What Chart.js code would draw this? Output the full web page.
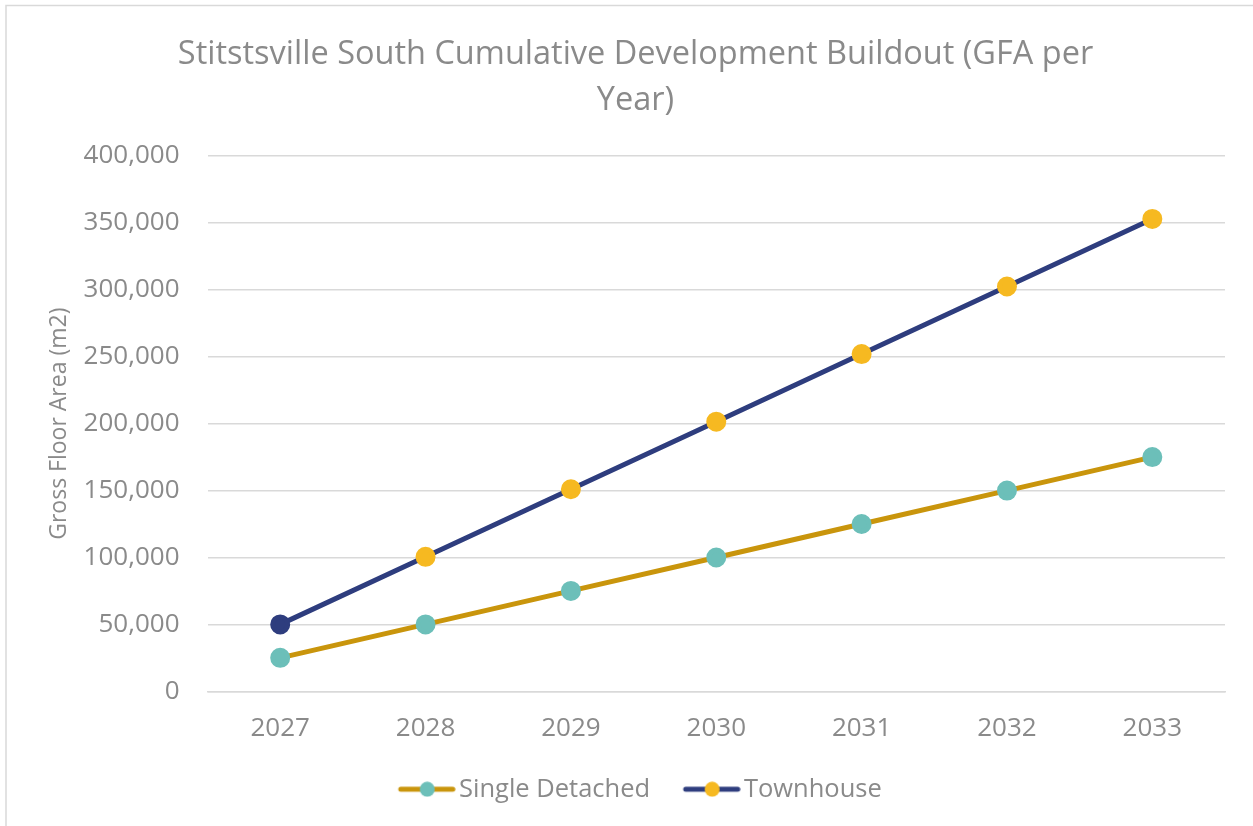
<!DOCTYPE html>
<html><head><meta charset="utf-8">
<script src="https://cdn.jsdelivr.net/npm/chart.js@4/dist/chart.umd.min.js"></script>
<style>html,body{margin:0;padding:0;background:#fff}#wrap{width:1253px;height:826px;position:relative}</style>
</head><body><div id="wrap"><canvas id="c" width="1253" height="826"></canvas></div>
<script>
const categories = ['2027','2028','2029','2030','2031','2032','2033'];
const singleDetached = [25000, 50000, 75000, 100000, 125000, 150000, 175000];
const townhouse = [50000, 100500, 151000, 201500, 252000, 302500, 353000];
const titleLines = ['Stitstsville South Cumulative Development Buildout (GFA per', 'Year)'];
const yTitle = 'Gross Floor Area (m2)';

const FONT = "'Open Sans', sans-serif";
const GRAY = '#8a8a8a';
const GOLD = '#C9950C', TEAL = '#6CBFB9', NAVY = '#2E3D7E', YELLOW = '#F6B921';
const LEG_PAD = 24;

function legendIcon(lineColor, dotColor){
  const cv = document.createElement('canvas');
  cv.width = 76; cv.height = 16;
  const g = cv.getContext('2d');
  g.strokeStyle = lineColor; g.lineWidth = 5; g.lineCap = 'round';
  g.beginPath(); g.moveTo(21, 8); g.lineTo(73, 8); g.stroke();
  g.fillStyle = dotColor; g.beginPath(); g.arc(47.5, 8, 7.5, 0, Math.PI*2); g.fill();
  return cv;
}

const framePlugin = {
  id: 'frame',
  afterInit(chart){
    const lg = chart.legend;
    if (lg && !lg._patched){
      const f = lg.fit.bind(lg);
      lg.fit = function(){ f(); this.height -= (LEG_PAD - 10); };
      lg._patched = true;
    }
  },
  afterLayout(chart){
    const lg = chart.legend;
    if (lg){ lg.top -= (LEG_PAD - 10); }
  },
  beforeDraw(chart){
    const ctx = chart.ctx;
    ctx.save();
    ctx.fillStyle = '#fff'; ctx.fillRect(0,0,chart.width,chart.height);
    ctx.strokeStyle = '#d9d9d9'; ctx.lineWidth = 1.5;
    ctx.beginPath(); ctx.moveTo(6, chart.height); ctx.lineTo(6, 5.5); ctx.lineTo(chart.width, 5.5); ctx.stroke();
    ctx.restore();
  }
};

new Chart(document.getElementById('c'), {
  type: 'line',
  data: {
    labels: categories,
    datasets: [
      { label: 'Single Detached', data: singleDetached, borderColor: GOLD, backgroundColor: TEAL,
        pointBackgroundColor: TEAL, pointBorderColor: TEAL, borderWidth: 5, pointRadius: 7.5, pointHoverRadius: 7.5, tension: 0 },
      { label: 'Townhouse', data: townhouse, borderColor: NAVY, backgroundColor: YELLOW,
        pointBackgroundColor: townhouse.map((v,i)=> i===0 ? NAVY : YELLOW),
        pointBorderColor: townhouse.map((v,i)=> i===0 ? NAVY : YELLOW),
        borderWidth: 5, pointRadius: 7.5, pointHoverRadius: 7.5, tension: 0 }
    ]
  },
  options: {
    responsive: false, animation: false,
    layout: { padding: { left: 46, right: 28, top: 22, bottom: 14 } },
    plugins: {
      title: { display: true, text: titleLines, color: GRAY, font: { family: FONT, size: 32.5, weight: 'normal', lineHeight: 1.4 }, padding: { top: 10, bottom: 33 } },
      legend: { position: 'bottom',
        labels: { color: GRAY, font: { family: FONT, size: 25.5 }, usePointStyle: true, pointStyleWidth: 57, boxHeight: 16, padding: LEG_PAD,
          generateLabels(chart){
            return chart.data.datasets.map((ds,i)=>({
              text: ds.label, fontColor: GRAY, datasetIndex: i, hidden: false, lineWidth: 0,
              pointStyle: i===0 ? legendIcon(GOLD, TEAL) : legendIcon(NAVY, YELLOW)
            }));
          } } },
      tooltip: { enabled: false }
    },
    scales: {
      x: { offset: true, grid: { display: false, drawTicks: false }, border: { display: true, color: '#d9d9d9', width: 1.5 },
        ticks: { color: GRAY, font: { family: FONT, size: 26 }, padding: 22 } },
      y: { min: 0, max: 400000, grid: { color: '#d9d9d9', lineWidth: 1.5, drawTicks: false }, border: { display: false },
        ticks: { stepSize: 50000, color: GRAY, font: { family: FONT, size: 26 }, padding: 28,
          callback: v => v.toLocaleString('en-US') },
        title: { display: true, text: yTitle, color: GRAY, font: { family: FONT, size: 23 }, padding: { top: 0, bottom: -18 } } }
    }
  },
  plugins: [framePlugin]
});
</script></body></html>
